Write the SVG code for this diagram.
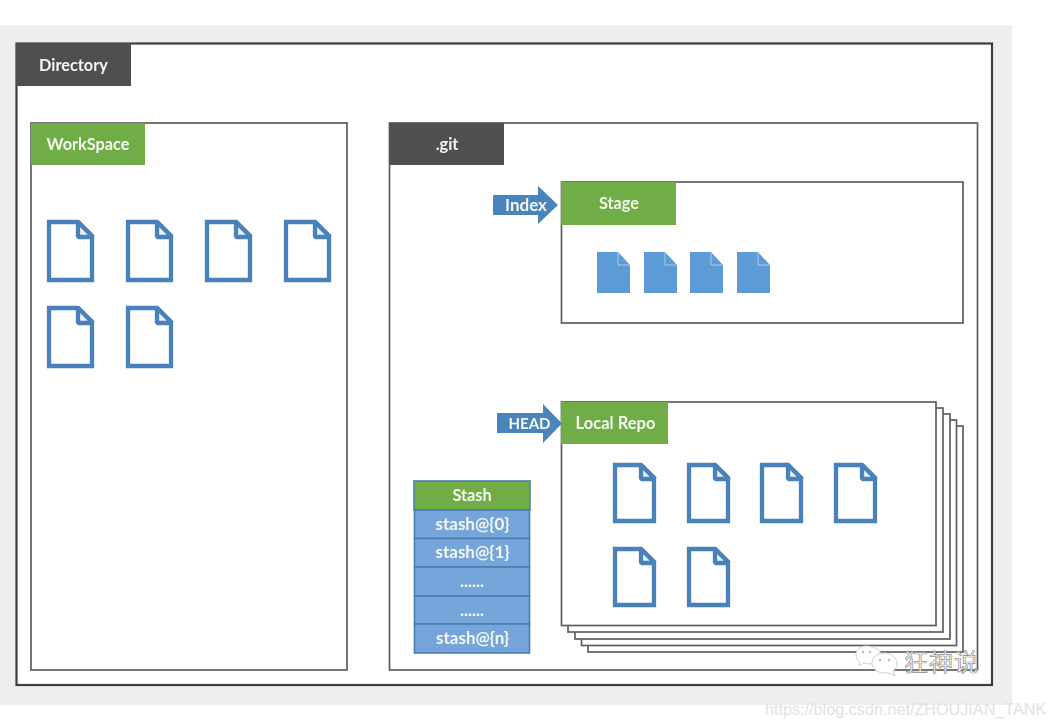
<svg xmlns="http://www.w3.org/2000/svg" width="1052" height="727" viewBox="0 0 1052 727">
<style>
.box{fill:#fff;stroke:#5e5e5e;stroke-width:1.7}
.outer{fill:#fff;stroke:#3c3c3c;stroke-width:2.2}
.green{fill:#70ad47}
.dark{fill:#505050}
.lbl{font-family:Lato,"Open Sans",sans-serif;font-weight:700;font-size:16.3px;fill:#f4f7ee;text-anchor:middle}
.big{font-size:17px}
.doc{fill:#fff;stroke:#4a82b8;stroke-width:4.3}
.fold{fill:#eaf1f8;stroke-linejoin:bevel}
.sdoc{fill:#5b9bd5}
.sfold{fill:none;stroke:#a9c9ea;stroke-width:1}
.arrow{fill:#4a84bd}
.cell{fill:#74a5da;stroke:#4a7fb0;stroke-width:1.6}
.wx{fill:#fff;stroke:#cfcfcf;stroke-width:1}
.eye{fill:#bbb}
</style>
<defs>
<filter id="soft" x="-2%" y="-2%" width="104%" height="104%"><feGaussianBlur stdDeviation="0.45"/></filter>
<g id="d"><path d="M2 2H31L45 16V60H2Z"/><path class="fold" d="M31 2V17H46Z"/></g>
<g id="r"><path d="M2 2H28L41 15V58H2Z"/><path class="fold" d="M28 2V16H42Z"/></g>
<g id="s"><path class="sdoc" d="M0 0H21L33 13V41H0Z"/><path class="sfold" d="M21 0V13H33"/></g>
</defs>
<rect width="1052" height="727" fill="#fff"/>
<rect x="0" y="25" width="1012" height="680" fill="#eeeeef"/>
<g filter="url(#soft)">
<g id="directory">
<rect class="outer" x="16.500" y="43.500" width="975.500" height="641.500"/>
<rect class="dark" x="16" y="43" width="115" height="43"/>
<text class="lbl" x="73.500" y="70.500">Directory</text>
</g>
<g id="workspace">
<rect class="box" x="31" y="123" width="316" height="547"/>
<rect class="green" x="31" y="123" width="114" height="42"/>
<text class="lbl" x="88" y="149.500">WorkSpace</text>
<g class="doc">
<use href="#d" x="47" y="220"/><use href="#d" x="126" y="220"/><use href="#d" x="205" y="220"/><use href="#d" x="284" y="220"/>
<use href="#d" x="47" y="306"/><use href="#d" x="126" y="306"/>
</g>
</g>
<g id="git">
<rect class="box" x="389.500" y="123" width="588" height="547"/>
<rect class="dark" x="389" y="123" width="115" height="42"/>
<text class="lbl" x="447" y="149.500">.git</text>
</g>
<g id="stage">
<rect class="box" x="561.500" y="182" width="401.500" height="141"/>
<rect class="green" x="561" y="182" width="115" height="43"/>
<text class="lbl" x="619" y="208.500">Stage</text>
<use href="#s" x="597" y="252"/><use href="#s" x="644" y="252"/><use href="#s" x="690" y="252"/><use href="#s" x="737" y="252"/>
</g>
<g id="local-repo">
<rect class="box" x="588" y="426" width="375" height="226"/>
<rect class="box" x="581.500" y="420" width="375" height="225.500"/>
<rect class="box" x="575" y="414" width="375" height="225"/>
<rect class="box" x="568" y="408" width="375" height="224"/>
<rect class="box" x="561.500" y="402" width="374.500" height="223.500"/>
<rect class="green" x="561" y="402" width="107" height="42"/>
<text class="lbl" x="615.500" y="428.500" style="font-size:16.500px">Local Repo</text>
<g class="doc">
<use href="#r" x="613" y="463"/><use href="#r" x="687" y="463"/><use href="#r" x="760" y="463"/><use href="#r" x="834" y="463"/>
<use href="#r" x="613" y="547"/><use href="#r" x="687" y="547"/>
</g>
</g>
<g id="stash">
<rect class="green" x="414" y="481" width="116" height="29" stroke="#4a7fb0" stroke-width="1.6"/>
<rect class="cell" x="414.500" y="510" width="115" height="28.500"/>
<rect class="cell" x="414.500" y="538.500" width="115" height="28.500"/>
<rect class="cell" x="414.500" y="567" width="115" height="29"/>
<rect class="cell" x="414.500" y="596" width="115" height="28"/>
<rect class="cell" x="414.500" y="624" width="115" height="29"/>
<text class="lbl" x="472" y="500.500">Stash</text>
<text class="lbl big" x="472.500" y="529.500">stash@{0}</text>
<text class="lbl big" x="472.500" y="558">stash@{1}</text>
<text class="lbl big" x="472" y="587">......</text>
<text class="lbl big" x="472" y="616">......</text>
<text class="lbl big" x="472.500" y="643.500">stash@{n}</text>
</g>
<g id="connectors">
<g id="index-arrow"><path class="arrow" d="M493 195H538V186L558 205L538 224V215H493Z"/><text class="lbl big" x="526" y="211">Index</text></g>
<g id="head-arrow"><path class="arrow" d="M497 413H543V404L562 423.500L543 443V433H497Z"/><text class="lbl" x="529.500" y="428.500" style="font-size:15px">HEAD</text></g>
</g>
</g>
<g id="watermark">
<g filter="url(#soft)">
<path class="wx" d="M866 646c-6 0-10 4-10 9c0 3 1 5 4 7l-1 4l5-3c2 0 3 1 5 1c7 0 12-5 12-9s-6-9-15-9z"/>
<circle class="eye" cx="863" cy="652" r="1.200"/><circle class="eye" cx="870" cy="652" r="1.200"/>
<path class="wx" d="M884 653c-7 0-12 5-12 10s5 10 12 10c2 0 3 0 5 0l6 3l-2-5c3-2 4-5 4-8c0-5-6-10-13-10z"/>
<circle class="eye" cx="880" cy="660" r="1.200"/><circle class="eye" cx="889" cy="660" r="1.200"/>
</g>
<text x="904" y="671" font-family="'Noto Sans CJK SC',sans-serif" font-size="24" fill="#fff" stroke="#8a8a8a" stroke-width="0.7" letter-spacing="1">狂神说</text>
<text x="765" y="714.500" font-family="'Liberation Sans',sans-serif" font-size="16.200" fill="#e2e2e4">https://blog.csdn.net/ZHOUJIAN_TANK</text>
</g>
</svg>
